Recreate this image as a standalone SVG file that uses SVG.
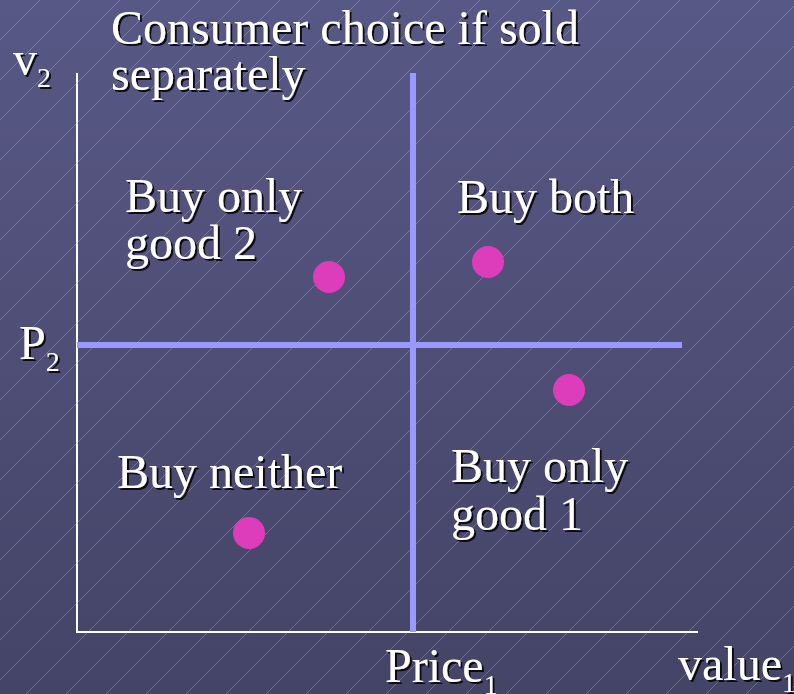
<svg xmlns="http://www.w3.org/2000/svg" width="794" height="694" viewBox="0 0 794 694">
<defs>
<linearGradient id="bg" x1="0" y1="0" x2="0" y2="1">
<stop offset="0" stop-color="#585886"/>
<stop offset="1" stop-color="#444467"/>
</linearGradient>
<pattern id="hatch" patternUnits="userSpaceOnUse" width="40" height="40">
<path d="M-10,10 L10,-10 M0,40 L40,0 M30,50 L50,30" stroke="#ffffff" stroke-opacity="0.22" stroke-width="1" fill="none"/>
</pattern>
<filter id="sh" x="-5%" y="-20%" width="110%" height="140%">
<feDropShadow dx="2" dy="2" stdDeviation="0.6" flood-color="#000000" flood-opacity="0.85"/>
</filter>
<style>
.t{font-family:"Liberation Serif","Times New Roman",serif;font-size:48px;fill:#ffffff}
.s{font-size:28px}
.axis{stroke:#ffffff;stroke-width:2;fill:none}
.div{stroke:#9999ff;stroke-width:6;fill:none}
.dot{fill:#dd3dbb}
</style>
</defs>
<rect width="794" height="694" fill="url(#bg)"/>
<rect width="794" height="694" fill="url(#hatch)"/>
<g id="connectors">
<line class="axis" x1="77" y1="73" x2="77" y2="632"/>
<line class="axis" x1="76" y1="632" x2="698" y2="632"/>
<line class="div" x1="413" y1="73" x2="413" y2="632"/>
<line class="div" x1="77" y1="345" x2="682" y2="345"/>
</g>
<g id="dots">
<circle id="dot1" class="dot" cx="329" cy="277" r="16"/>
<circle id="dot2" class="dot" cx="488" cy="262" r="16"/>
<circle id="dot3" class="dot" cx="569" cy="390" r="16"/>
<circle id="dot4" class="dot" cx="249" cy="533" r="16"/>
</g>
<g filter="url(#sh)">
<g id="title"><text class="t" x="111" y="44">Consumer choice if sold</text><text class="t" x="111" y="90">separately</text></g>
<g id="v2"><text class="t" x="13" y="75">v<tspan class="s" dx="0" dy="12">2</tspan></text></g>
<g id="p2"><text class="t" x="19" y="359">P<tspan class="s" dx="0" dy="12">2</tspan></text></g>
<g id="price1"><text class="t" x="385" y="682">Price<tspan class="s" dx="0" dy="12">1</tspan></text></g>
<g id="value1"><text class="t" x="678" y="680">value<tspan class="s" dx="0" dy="12">1</tspan></text></g>
<g id="q-good2"><text class="t" x="125" y="212">Buy only</text><text class="t" x="125" y="259">good 2</text></g>
<g id="q-both"><text class="t" x="457" y="213">Buy both</text></g>
<g id="q-neither"><text class="t" x="117" y="488">Buy neither</text></g>
<g id="q-good1"><text class="t" x="451" y="482">Buy only</text><text class="t" x="451" y="530">good 1</text></g>
</g>
</svg>
